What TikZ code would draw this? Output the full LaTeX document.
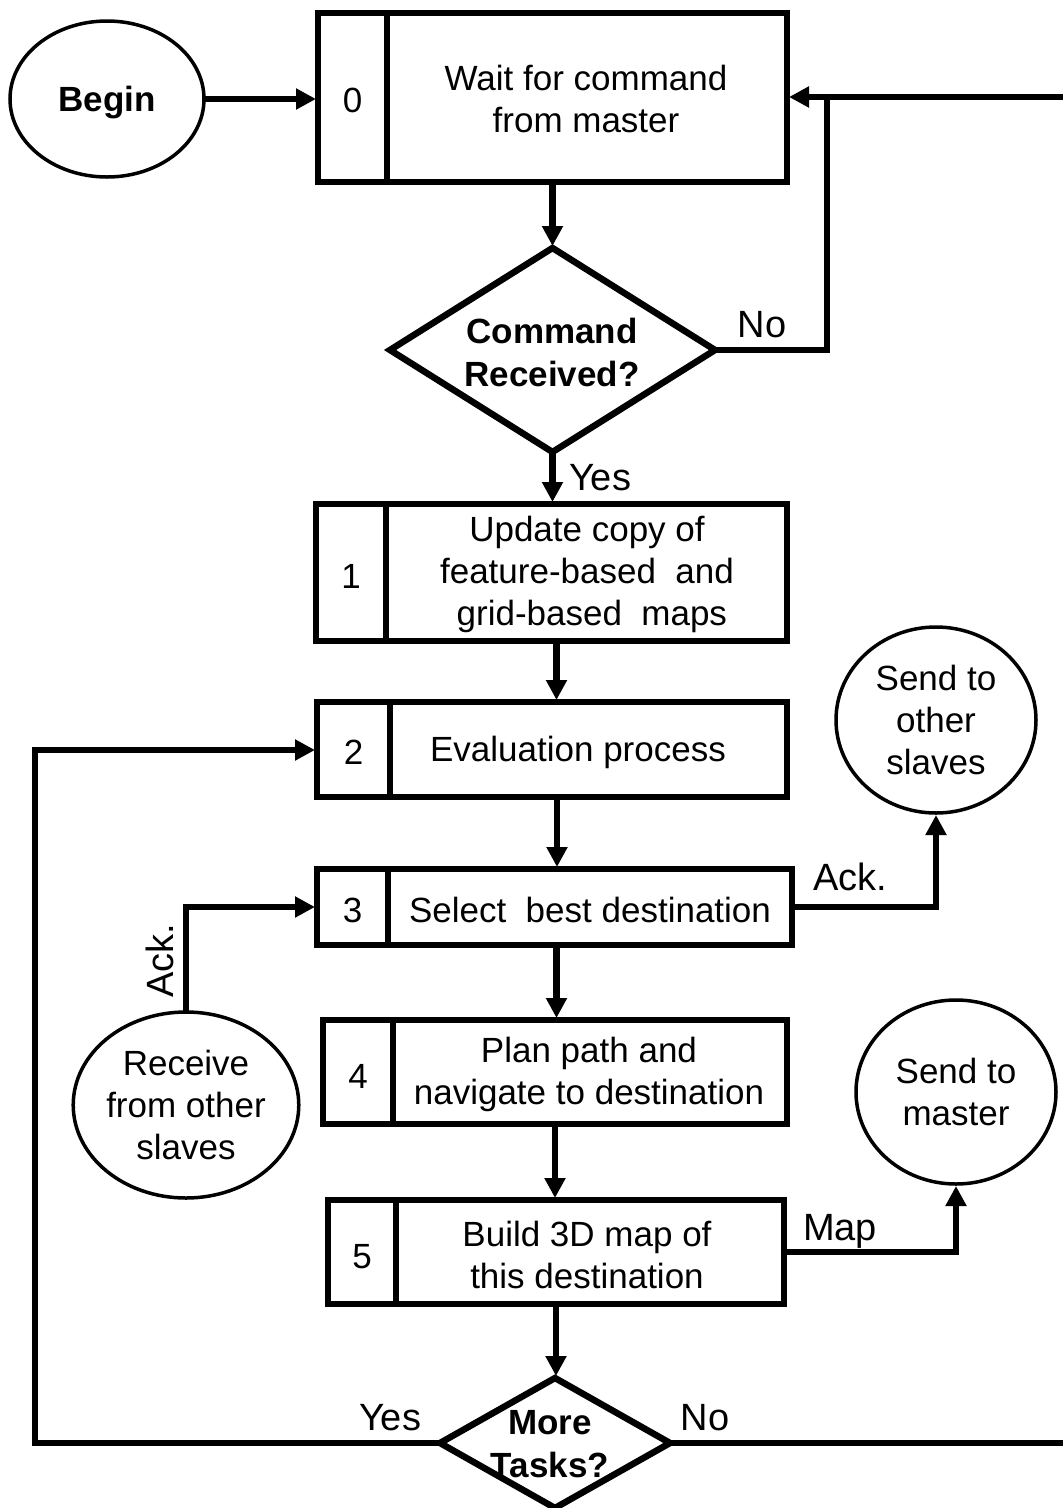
\documentclass[tikz,border=0pt]{standalone}
\usepackage{fontspec}
\setmainfont{Liberation Sans}
\usetikzlibrary{arrows.meta,shapes.geometric,calc}
\begin{document}
\begin{tikzpicture}[x=1pt,y=-1pt,
  every node/.style={font=\fontsize{35pt}{42pt}\selectfont, inner sep=0pt, outer sep=0pt},
  procbox/.style={draw, rectangle, line width=6.5pt},
  cellline/.style={line width=5.5pt},
  decision/.style={draw, diamond, line width=6.5pt},
  terminal/.style={draw, ellipse, line width=3.5pt, align=center},
  boldtext/.style={font=\fontsize{35pt}{43pt}\selectfont\bfseries, align=center},
  conn/.style={line width=6.5pt},
  flow/.style={conn, -{Triangle[length=20pt,width=20pt]}, shorten >=2pt},
  lbl/.style={anchor=base, font=\fontsize{38pt}{44pt}\selectfont}
]
\useasboundingbox (0,0) rectangle (1063,1508);

% start terminal
\node[terminal, minimum width=194pt, minimum height=156pt] (begin) at (107,99) {};
\node[boldtext] (begintext) at (107,103) {Begin};

% process boxes: outer frame, number cell divider, number, description
\node[procbox, minimum width=469pt, minimum height=169pt] (b0) at (552.5,97.5) {};
\draw[cellline] ([xshift=69pt]b0.north west) -- ([xshift=69pt]b0.south west);
\node (n0) at (352.5,100) {0};
\node[align=center] (t0) at (586,99) {Wait for command\\from master};

\node[procbox, minimum width=471pt, minimum height=137pt] (b1) at (551.5,572.5) {};
\draw[cellline] ([xshift=70pt]b1.north west) -- ([xshift=70pt]b1.south west);
\node (n1) at (351,576) {1};
\node[align=center] (t1) at (587,574) {Update copy of\\feature-based\ \ and\\\ grid-based\ \ maps};

\node[procbox, minimum width=470pt, minimum height=95pt] (b2) at (552,749.5) {};
\draw[cellline] ([xshift=73pt]b2.north west) -- ([xshift=73pt]b2.south west);
\node (n2) at (353.5,752) {2};
\node (t2) at (578,752) {Evaluation process};

\node[procbox, minimum width=475pt, minimum height=76pt] (b3) at (554.5,907) {};
\draw[cellline] ([xshift=71pt]b3.north west) -- ([xshift=71pt]b3.south west);
\node (n3) at (352.5,910) {3};
\node (t3) at (590,910) {Select\ \ best destination};

\node[procbox, minimum width=464pt, minimum height=104pt] (b4) at (555,1072) {};
\draw[cellline] ([xshift=70pt]b4.north west) -- ([xshift=70pt]b4.south west);
\node (n4) at (358,1076) {4};
\node[align=center] (t4) at (589,1074) {Plan path and\\navigate to destination};

\node[procbox, minimum width=456pt, minimum height=104pt] (b5) at (556,1252) {};
\draw[cellline] ([xshift=68pt]b5.north west) -- ([xshift=68pt]b5.south west);
\node (n5) at (362,1257) {5};
\node[align=center] (t5) at (587,1255) {Build 3D map of\\this destination};

% decisions
\node[decision, minimum width=325pt, minimum height=204pt] (d1) at (552.5,350) {};
\node[boldtext] (d1t) at (552,352) {Command\\Received?};
\node[decision, minimum width=230pt, minimum height=130pt] (d2) at (555,1443) {};
\node[boldtext] (d2t) at (550,1444) {More\\Tasks?};

% message terminals
\node[terminal, minimum width=200pt, minimum height=186pt] (sendS) at (936,720) {Send to\\other\\slaves};
\node[terminal, minimum width=202pt, minimum height=186pt] (recv) at (186,1105) {Receive\\from other\\slaves};
\node[terminal, minimum width=200pt, minimum height=184pt] (sendM) at (956,1092) {Send to\\master};

% loose ends and bends
\coordinate (edgeTop) at (1075,97);
\coordinate (edgeBot) at (1075,1443);
\coordinate (noTurn) at (827,97);
\coordinate (leftRail) at (35,750);

% connectors
\draw[flow] (begin.east) -- (begin.east -| b0.west);
\draw[flow] (b0.south -| d1.north) -- (d1.north);
\draw[conn] (d1.east) -| (noTurn);
\draw[flow] (edgeTop) -- (b0.east |- edgeTop);
\draw[flow] (d1.south) -- (d1.south |- b1.north);
\draw[flow] ([xshift=5pt]b1.south) -- ([xshift=5pt]b1.south |- b2.north);
\draw[flow] ([xshift=5pt]b2.south) -- ([xshift=5pt]b2.south |- b3.north);
\draw[flow] ([xshift=2pt]b3.south) -- ([xshift=2pt]b3.south |- b4.north);
\draw[flow] (b4.south) -- (b4.south |- b5.north);
\draw[flow] (b5.south) -- (b5.south |- d2.north);
\draw[flow] (d2.west) -| (leftRail) -- (leftRail -| b2.west);
\draw[conn] (d2.east) -- (edgeBot);
\draw[flow] (b3.east) -| (sendS.south);
\draw[flow] (recv.north) |- (b3.west);
\draw[flow] (b5.east) -| (sendM.south);

% connector labels
\node[lbl] (noA) at (762,337) {No};
\node[lbl] (yesA) at (600,490) {Yes};
\node[lbl] (ackA) at (850,890) {Ack.};
\node[lbl, rotate=90] (ackB) at (173,961) {Ack.};
\node[lbl] (mapL) at (840,1240) {Map};
\node[lbl] (yesB) at (390,1430) {Yes};
\node[lbl] (noB) at (705,1430) {No};
\end{tikzpicture}
\end{document}
